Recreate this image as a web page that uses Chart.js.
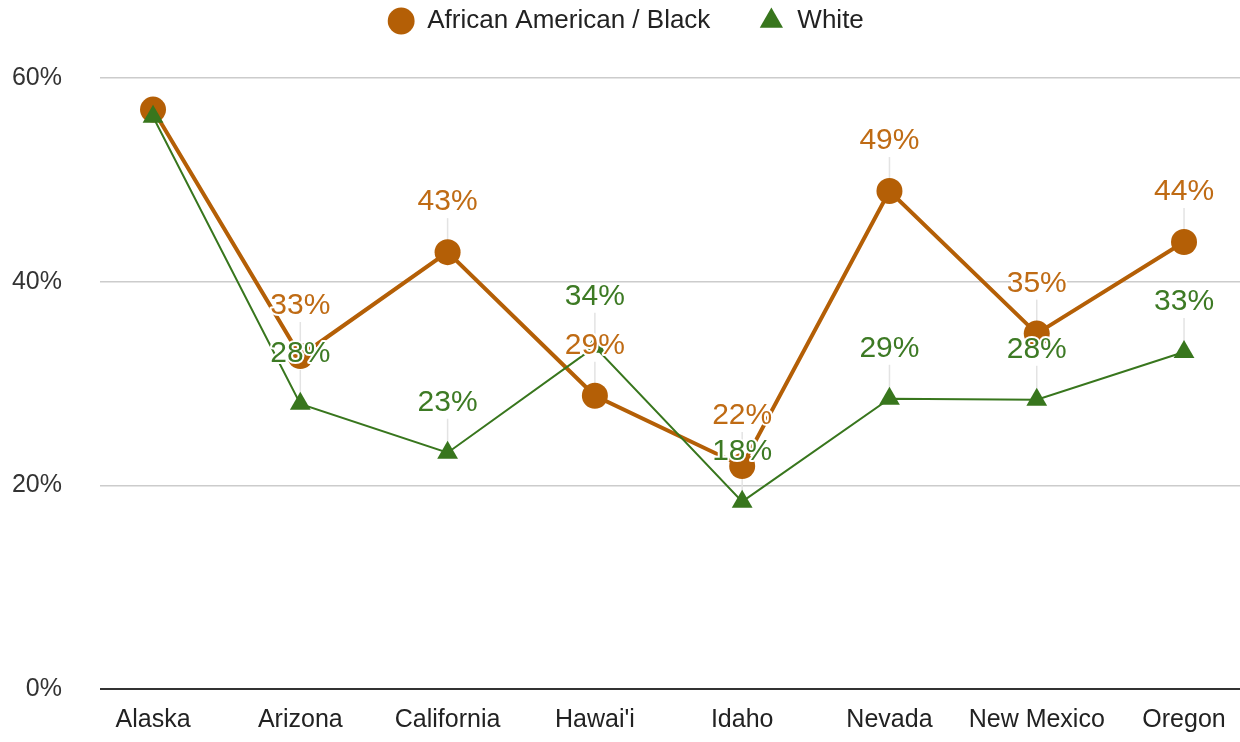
<!DOCTYPE html>
<html>
<head>
<meta charset="utf-8">
<script src="https://cdn.jsdelivr.net/npm/chart.js@4"></script>
<style>
    html, body { margin: 0; padding: 0; background: #fff; overflow: hidden; }
    #lineChart { display: block; width: 1240px; height: 742px; }
</style>
</head>
<body>
<canvas id="lineChart" width="1240" height="742"></canvas>
<script>
const states = ['Alaska', 'Arizona', 'California', "Hawai'i", 'Idaho', 'Nevada', 'New Mexico', 'Oregon'];
const blackShare = [56.9, 32.7, 42.9, 28.8, 21.9, 48.9, 34.9, 43.9];
const whiteShare = [56.2, 28.0, 23.2, 33.6, 18.4, 28.5, 28.4, 33.1];
const yTicks = [0, 20, 40, 60];

const ORANGE = '#b45f06';
const GREEN = '#38761d';
const FONT = 'Arial, "Liberation Sans", sans-serif';

// value labels sit above each point with a thin leader line down to it
const LABEL_RISE = 50;
const pointLabels = {
    id: 'pointLabels',
    beforeDatasetsDraw(chart) {
        const ctx = chart.ctx;
        ctx.save();
        ctx.strokeStyle = '#e3e3e3';
        ctx.lineWidth = 1.5;
        chart.data.datasets.forEach((ds, di) => {
            chart.getDatasetMeta(di).data.forEach((pt, i) => {
                if (i === 0) return; // first state is left unlabelled
                ctx.beginPath();
                ctx.moveTo(pt.x, pt.y - LABEL_RISE + 16);
                ctx.lineTo(pt.x, pt.y);
                ctx.stroke();
            });
        });
        ctx.restore();
    },
    afterDatasetsDraw(chart) {
        const ctx = chart.ctx;
        ctx.save();
        ctx.font = '30px ' + FONT;
        ctx.textAlign = 'center';
        ctx.textBaseline = 'middle';
        ctx.lineJoin = 'round';
        chart.data.datasets.forEach((ds, di) => {
            chart.getDatasetMeta(di).data.forEach((pt, i) => {
                if (i === 0) return;
                const text = Math.round(ds.data[i].y) + '%';
                const y = pt.y - LABEL_RISE;
                ctx.strokeStyle = '#fff';
                ctx.lineWidth = 4;
                ctx.strokeText(text, pt.x, y);
                ctx.fillStyle = ds.labelColor;
                ctx.fillText(text, pt.x, y);
            });
        });
        ctx.restore();
    }
};

// fixed legend band height so the plot starts lower down
const legendBand = {
    id: 'legendBand',
    beforeInit(chart) {
        const fit = chart.legend.fit;
        chart.legend.fit = function () {
            fit.call(this);
            this.height = 118;
        };
    }
};

const config = {
    type: 'line',
    data: {
        datasets: [
            {
                label: 'African American / Black',
                data: blackShare.map((v, i) => ({ x: i, y: v })),
                borderColor: ORANGE,
                backgroundColor: ORANGE,
                labelColor: '#bf6b14',
                borderWidth: 4,
                pointStyle: 'circle',
                pointRadius: 13,
                pointHoverRadius: 13,
                pointBorderWidth: 0,
                order: 2
            },
            {
                label: 'White',
                data: whiteShare.map((v, i) => ({ x: i, y: v })),
                borderColor: GREEN,
                backgroundColor: GREEN,
                labelColor: '#3d7a24',
                borderWidth: 2,
                pointStyle: 'triangle',
                pointRadius: 12,
                pointHoverRadius: 12,
                pointBorderWidth: 0,
                order: 1
            }
        ]
    },
    options: {
        responsive: false,
        animation: false,
        layout: {
            autoPadding: false,
            padding: { left: 12, right: 0, top: -40, bottom: -9 }
        },
        plugins: {
            legend: {
                position: 'top',
                labels: {
                    usePointStyle: true,
                    boxHeight: 19,
                    boxWidth: 32,
                    padding: 48,
                    color: '#222',
                    font: { family: FONT, size: 26 },
                    sort: (a, b) => a.datasetIndex - b.datasetIndex
                }
            },
            tooltip: { enabled: false }
        },
        scales: {
            x: {
                type: 'linear',
                min: -0.36,
                max: 7.38,
                afterBuildTicks: axis => {
                    axis.ticks = states.map((s, i) => ({ value: i }));
                },
                afterFit: axis => {
                    axis.paddingLeft = 0;
                    axis.paddingRight = 0;
                },
                grid: { display: false, drawTicks: false },
                border: { display: false },
                ticks: {
                    autoSkip: false,
                    maxRotation: 0,
                    padding: 16,
                    color: '#222',
                    font: { family: FONT, size: 25 },
                    callback: v => states[v]
                }
            },
            y: {
                min: 0,
                max: 60,
                afterBuildTicks: axis => {
                    axis.ticks = yTicks.map(v => ({ value: v }));
                },
                afterFit: axis => {
                    axis.width = 88;
                },
                grid: {
                    drawTicks: false,
                    color: c => c.tick.value === 0 ? '#333' : '#cccccc',
                    lineWidth: c => c.tick.value === 0 ? 2 : 1.5
                },
                border: { display: false },
                ticks: {
                    padding: 38,
                    color: '#333',
                    font: { family: FONT, size: 25 },
                    callback: v => v + '%'
                }
            }
        }
    },
    plugins: [pointLabels, legendBand]
};

const ctx = document.getElementById('lineChart').getContext('2d');
const lineChart = new Chart(ctx, config);
</script>
</body>
</html>
